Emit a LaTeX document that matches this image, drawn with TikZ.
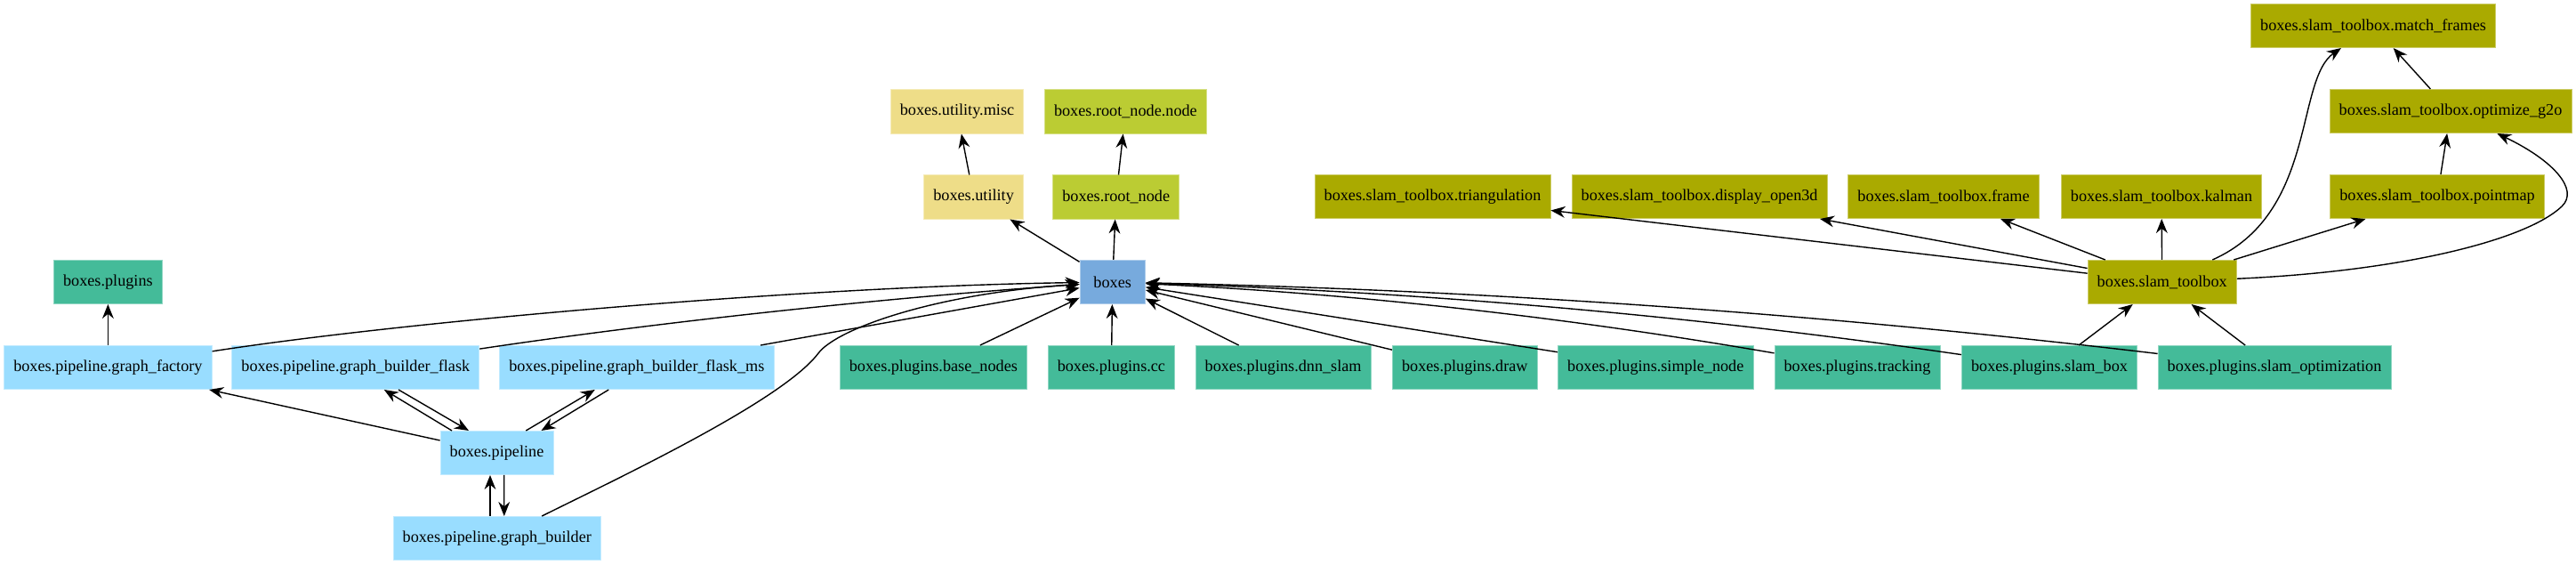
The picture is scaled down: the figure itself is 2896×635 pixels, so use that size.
\documentclass[tikz,border=0pt]{standalone}
\usepackage{fontspec}
\setmainfont{Liberation Serif}
\usetikzlibrary{arrows.meta}

\definecolor{tolblue}{HTML}{77AADD}
\definecolor{tolcyan}{HTML}{99DDFF}
\definecolor{tolmint}{HTML}{44BB99}
\definecolor{tolpear}{HTML}{BBCC33}
\definecolor{tololive}{HTML}{AAAA00}
\definecolor{tolsand}{HTML}{EEDD88}

\begin{document}
\begin{tikzpicture}[x=.5pt, y=-.5pt, >={Stealth[length=8pt,width=6.4pt,inset=2.6pt]},
    line width=.7pt, font=\fontsize{9.1}{11}\selectfont,
    mod/.style={fill=#1, draw=#1!60!white, line width=.4pt, minimum height=24.6pt,
      minimum width=36.75pt, inner xsep=5.35pt}]
  \useasboundingbox (0,0) rectangle (2896,635);
  % top rows
  \node[mod=tololive] (match) at (2668,29) {boxes.slam\_toolbox.match\_frames};
  \node[mod=tolsand] (misc) at (1076,125.5) {boxes.utility.misc};
  \node[mod=tolpear] (rootnodenode) at (1265.4,125.5) {boxes.root\_node.node};
  \node[mod=tololive] (g2o) at (2755,125) {boxes.slam\_toolbox.optimize\_g2o};
  \node[mod=tolsand] (utility) at (1094.6,221.5) {boxes.utility};
  \node[mod=tolpear] (rootnode) at (1254.7,221.5) {boxes.root\_node};
  \foreach \x/\n/\t in {1610.5/triang/triangulation, 1910.6/open3d/display\_open3d,
      2185/frame/frame, 2430/kalman/kalman, 2740/pointmap/pointmap}
    \node[mod=tololive] (\n) at (\x,221) {boxes.slam\_toolbox.\t};
  \node[mod=tolmint] (plugins) at (121.4,317) {boxes.plugins};
  \node[mod=tolblue] (boxes) at (1250.7,317) {boxes};
  \node[mod=tololive] (toolbox) at (2430.7,317) {boxes.slam\_toolbox};
  % pipeline
  \node[mod=tolcyan] (factory) at (121.4,413) {boxes.pipeline.graph\_factory};
  \node[mod=tolcyan] (flask) at (399.8,413) {boxes.pipeline.graph\_builder\_flask};
  \node[mod=tolcyan] (flaskms) at (715.8,413) {boxes.pipeline.graph\_builder\_flask\_ms};
  \node[mod=tolcyan] (pipeline) at (558.5,509) {boxes.pipeline};
  \node[mod=tolcyan] (builder) at (558.8,605) {boxes.pipeline.graph\_builder};
  % plugins
  \foreach \x/\n/\t in {1049.4/basenodes/base\_nodes, 1249.4/cc/cc, 1442.6/dnnslam/dnn\_slam,
      1646.8/pdraw/draw, 1861.3/simplenode/simple\_node, 2088/tracking/tracking,
      2304/slambox/slam\_box, 2557/slamopt/slam\_optimization}
    \node[mod=tolmint] (\n) at (\x,413) {boxes.plugins.\t};

  % edges
  \draw[->] (factory) -- (plugins);
  \draw[->] (factory) .. controls (450,362) and (900,322) .. (boxes);
  \draw[->] (flask) .. controls (700,368) and (950,338) .. (boxes);
  \draw[->] (flaskms) -- (boxes);
  \draw[->] (builder) .. controls (700,535) and (880,450) .. (920,397)
    .. controls (940,370) and (1050,330) .. (boxes);
  \draw[->] (pipeline) -- (factory);
  \draw[->] ([xshift=-25.25pt]pipeline.north) -- ([xshift=16pt]flask.south);
  \draw[->] ([xshift=24.1pt]flask.south) -- ([xshift=-15.75pt]pipeline.north);
  \draw[->] ([xshift=16.4pt]pipeline.north) -- ([xshift=-23.5pt]flaskms.south);
  \draw[->] ([xshift=-15.75pt]flaskms.south) -- ([xshift=25pt]pipeline.north);
  \draw[->] ([xshift=-3.9pt]builder.north) -- ([xshift=-3.75pt]pipeline.south);
  \draw[->] ([xshift=4.1pt]pipeline.south) -- ([xshift=4pt]builder.north);
  \foreach \n in {basenodes,cc,dnnslam,pdraw,simplenode}
    \draw[->] (\n) -- (boxes);
  \draw[->] (tracking) .. controls (1752,355) and (1520,330) .. (boxes);
  \draw[->] (slambox) .. controls (1899,354) and (1593,328) .. (boxes);
  \draw[->] (slamopt) .. controls (2042,352) and (1665,326) .. (boxes);
  \draw[->] (boxes) -- (utility);
  \draw[->] (boxes) -- (rootnode);
  \draw[->] (utility) -- (misc);
  \draw[->] (rootnode) -- (rootnodenode);
  \draw[->] (slambox) -- (toolbox);
  \draw[->] (slamopt) -- (toolbox);
  \foreach \n in {triang,open3d,frame,kalman,pointmap}
    \draw[->] (toolbox) -- (\n);
  \draw[->] (toolbox) .. controls (2605,240) and (2580,90) .. (match);
  \draw[->] (toolbox) .. controls (2700,305) and (2840,270) .. (2880,232)
    .. controls (2900,213) and (2870,180) .. (g2o);
  \draw[->] (pointmap) -- (g2o);
  \draw[->] (g2o) -- (match);
\end{tikzpicture}
\end{document}
